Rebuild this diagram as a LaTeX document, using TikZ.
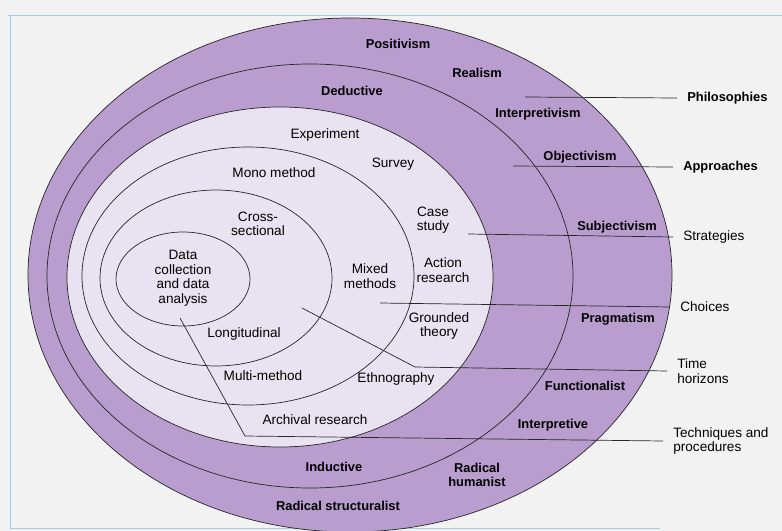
\documentclass[tikz,border=0pt]{standalone}
\usepackage{fontspec}
\setmainfont{Liberation Sans}
\usepackage[dvipsnames]{xcolor}
\definecolor{onion}{RGB}{186,157,207}
\definecolor{core}{RGB}{233,227,241}
\definecolor{paper}{RGB}{242,242,243}
\definecolor{frame}{RGB}{160,205,228}

\begin{document}
\begin{tikzpicture}[x=0.03cm,y=-0.03cm,-,auto,line width=0.6pt,
  ring/.style={draw=black!85,line width=0.6pt},
  leader/.style={draw=black!85,line width=0.6pt},
  band node/.style={inner sep=1pt,align=center,font=\bfseries\fontsize{11}{12.5}\selectfont},
  core node/.style={inner sep=1pt,align=center,font=\fontsize{11.6}{12.4}\selectfont},
  side node/.style={anchor=west,align=left,inner xsep=8.5pt,inner ysep=1pt,font=\fontsize{11.6}{12.6}\selectfont},
  side bold/.style={side node,font=\bfseries\fontsize{11}{12.5}\selectfont}]
            \useasboundingbox[fill=paper] (0,0) rectangle (782,531);
            \draw[frame,line width=0.8pt] (8,15) -- (782,15) (10,15) -- (10,528) -- (660,528);

            % the layers, outside in
            \draw[ring,fill=onion] (350,275) ellipse [x radius=322,y radius=257];
            \draw[ring,fill=onion] (310,276) ellipse [x radius=263,y radius=212];
            \draw[ring,fill=core] (280,277) ellipse [x radius=213,y radius=170];
            \draw[ring] (248,276) ellipse [x radius=166,y radius=129];
            \draw[ring] (216,278) ellipse [x radius=116,y radius=88];
            \draw[ring] (183,279) ellipse [x radius=67,y radius=47];

            \node[band node] (posit) at (398,44) {Positivism};
            \node[band node] (real) at (477,73) {Realism};
            \node[band node] (deduc) at (352,91) {Deductive};
            \node[band node] (interp) at (538,114) {Interpretivism};
            \node[band node] (object) at (580,157) {Objectivism};
            \node[band node] (subject) at (617,227) {Subjectivism};
            \node[band node] (prag) at (618,319) {Pragmatism};
            \node[band node] (func) at (585,386) {Functionalist};
            \node[band node] (interpv) at (553,425) {Interpretive};
            \node[band node] (radhum) at (477,475) {Radical\\humanist};
            \node[band node] (induc) at (334,467) {Inductive};
            \node[band node] (radstr) at (338,506) {Radical structuralist};

            \node[core node] (exper) at (325,135) {Experiment};
            \node[core node] (survey) at (393,164) {Survey};
            \node[core node] (mono) at (274,173) {Mono method};
            \node[core node] (cross) at (258,224) {Cross-\\sectional};
            \node[core node] (case) at (433,220) {Case\\study};
            \node[core node] (data) at (183,278) {Data\\collection\\and data\\analysis};
            \node[core node] (mixed) at (370,276) {Mixed\\methods};
            \node[core node] (action) at (443,270) {Action\\research};
            \node[core node] (ground) at (439,326) {Grounded\\theory};
            \node[core node] (longit) at (244,334) {Longitudinal};
            \node[core node] (multi) at (263,376) {Multi-method};
            \node[core node] (ethno) at (396,379) {Ethnography};
            \node[core node] (arch) at (315,420) {Archival research};

            \node[side bold] (phil) at (677,98) {Philosophies};
            \node[side bold] (appr) at (673,167) {Approaches};
            \node[side node] (strat) at (673,237) {Strategies};
            \node[side node] (choice) at (670,307) {Choices};
            \node[side node] (time) at (667,371) {Time\\horizons};
            \node[side node] (tech) at (663,441) {Techniques and\\procedures};

            \coordinate (p0) at (525,97);
            \coordinate (a0) at (513,166);
            \coordinate (s0) at (468,234);
            \coordinate (c0) at (380,303);
            \coordinate (t0) at (302,308);
            \coordinate (t1) at (415,367);
            \coordinate (q0) at (180,318);
            \coordinate (q1) at (245,436);

            \path[leader]
                (p0) edge (phil.west)
                (a0) edge (appr.west)
                (s0) edge (strat.west)
                (c0) edge (choice.west)
            ;
            \draw[leader] (t0) -- (t1) -- (time.west);
            \draw[leader] (q0) -- (q1) -- (tech.west);
            \end{tikzpicture}
\end{document}
